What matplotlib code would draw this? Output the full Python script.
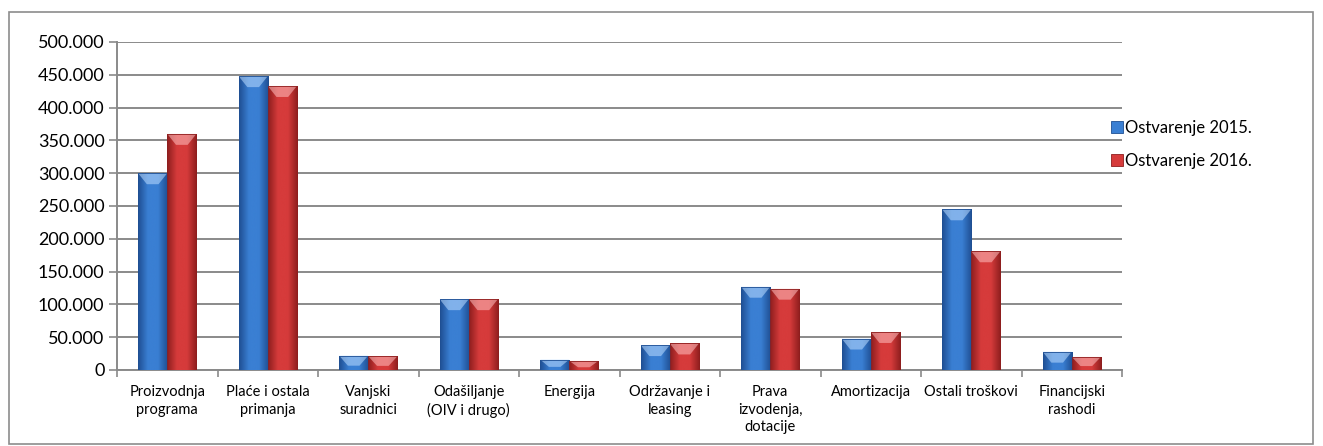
import numpy as np
import matplotlib
matplotlib.use("Agg")
import matplotlib.pyplot as plt
from matplotlib.colors import LinearSegmentedColormap
from matplotlib.patches import Polygon, Rectangle
from matplotlib.ticker import FuncFormatter, FixedLocator

categories = ["Proizvodnja\nprograma", "Plaće i ostala\nprimanja", "Vanjski\nsuradnici",
              "Odašiljanje\n(OIV i drugo)", "Energija", "Održavanje i\nleasing",
              "Prava\nizvodenja,\ndotacije", "Amortizacija", "Ostali troškovi",
              "Financijski\nrashodi"]
series_names = ["Ostvarenje 2015.", "Ostvarenje 2016."]
values_2015 = [300000, 448000, 22000, 108000, 16000, 38000, 127000, 48000, 245000, 28000]
values_2016 = [360000, 433000, 21000, 108000, 14000, 40500, 124000, 58000, 181000, 20000]
yticks = [0, 50000, 100000, 150000, 200000, 250000, 300000, 350000, 400000, 450000, 500000]

plt.rcParams['font.family'] = ['Lato', 'DejaVu Sans']

fig = plt.figure(figsize=(13.23, 4.46), dpi=100)
ax = fig.add_axes([117/1323, 1-370/446, (1122-117)/1323, (370-42)/446])

# outer frame
fig.patches.append(Rectangle((9/1323, 2/446), (1313-9)/1323, (434-2)/446,
                             transform=fig.transFigure, fill=False,
                             edgecolor="#8c8c8c", linewidth=1.2))

x = np.arange(len(categories))
w = 0.29
styles = [
    dict(base="#3a7fd3", light="#bcdcff", dark="#1f4f93"),
    dict(base="#d63b3b", light="#ffc0c0", dark="#8e1e1e"),
]

def gradient_cmap(s):
    return LinearSegmentedColormap.from_list("g", [s["dark"], s["base"], s["base"], s["dark"]])

grad = np.linspace(0, 1, 64).reshape(1, -1)
px_per_unit = 328 / 500000.0
for i, (vals, s) in enumerate(zip([values_2015, values_2016], styles)):
    xs = x + (i - 0.5) * w
    bars = ax.bar(xs, vals, width=w, color=s["base"], edgecolor=s["dark"],
                  linewidth=0.6, zorder=3, label=series_names[i])
    for b in bars:
        x0 = b.get_x(); x1 = x0 + b.get_width(); h = b.get_height()
        im = ax.imshow(grad, extent=[x0, x1, 0, h], aspect='auto',
                       cmap=gradient_cmap(s), zorder=3.5, interpolation='bicubic')
        im.set_clip_path(b)
        d = min(11 / px_per_unit, h * 0.7)
        bev = Polygon([(x0, h), (x1, h), (x1 - 0.3 * w, h - d), (x0 + 0.3 * w, h - d)],
                      closed=True, facecolor=s["light"], alpha=0.55,
                      edgecolor='none', zorder=4)
        ax.add_patch(bev)
        ax.add_patch(Rectangle((x0, 0), w, h, fill=False, edgecolor=s["dark"],
                               linewidth=0.6, zorder=4.5))

ax.set_xlim(-0.5, len(categories) - 0.5)
ax.set_ylim(0, 500000)
ax.set_yticks(yticks)
ax.yaxis.set_major_formatter(FuncFormatter(lambda v, p: f"{int(v):,}".replace(",", ".")))
ax.grid(axis='y', color="#8a8a8a", linewidth=1.4, zorder=0)
ax.set_axisbelow(True)

ax.set_xticks(x)
ax.set_xticklabels(categories, fontsize=10.5, linespacing=1.3)
ax.xaxis.set_minor_locator(FixedLocator(np.arange(-0.5, len(categories), 1)))
ax.tick_params(axis='x', which='major', length=0, pad=11)
ax.tick_params(axis='x', which='minor', length=5, color="#8a8a8a", width=1.2)
ax.tick_params(axis='y', length=6, color="#8a8a8a", width=1.2, labelsize=13, pad=3)

for sp in ['top', 'right']:
    ax.spines[sp].set_visible(False)
for sp in ['left', 'bottom']:
    ax.spines[sp].set_color("#8a8a8a")
    ax.spines[sp].set_linewidth(1.4)

leg = ax.legend(loc='upper left', bbox_to_anchor=(1096/1323, 1 - 105/446),
                bbox_transform=fig.transFigure, frameon=False, fontsize=12,
                handlelength=0.7, handleheight=0.7, handletextpad=0.15, labelspacing=1.0)

fig.savefig("out.png", dpi=100)
